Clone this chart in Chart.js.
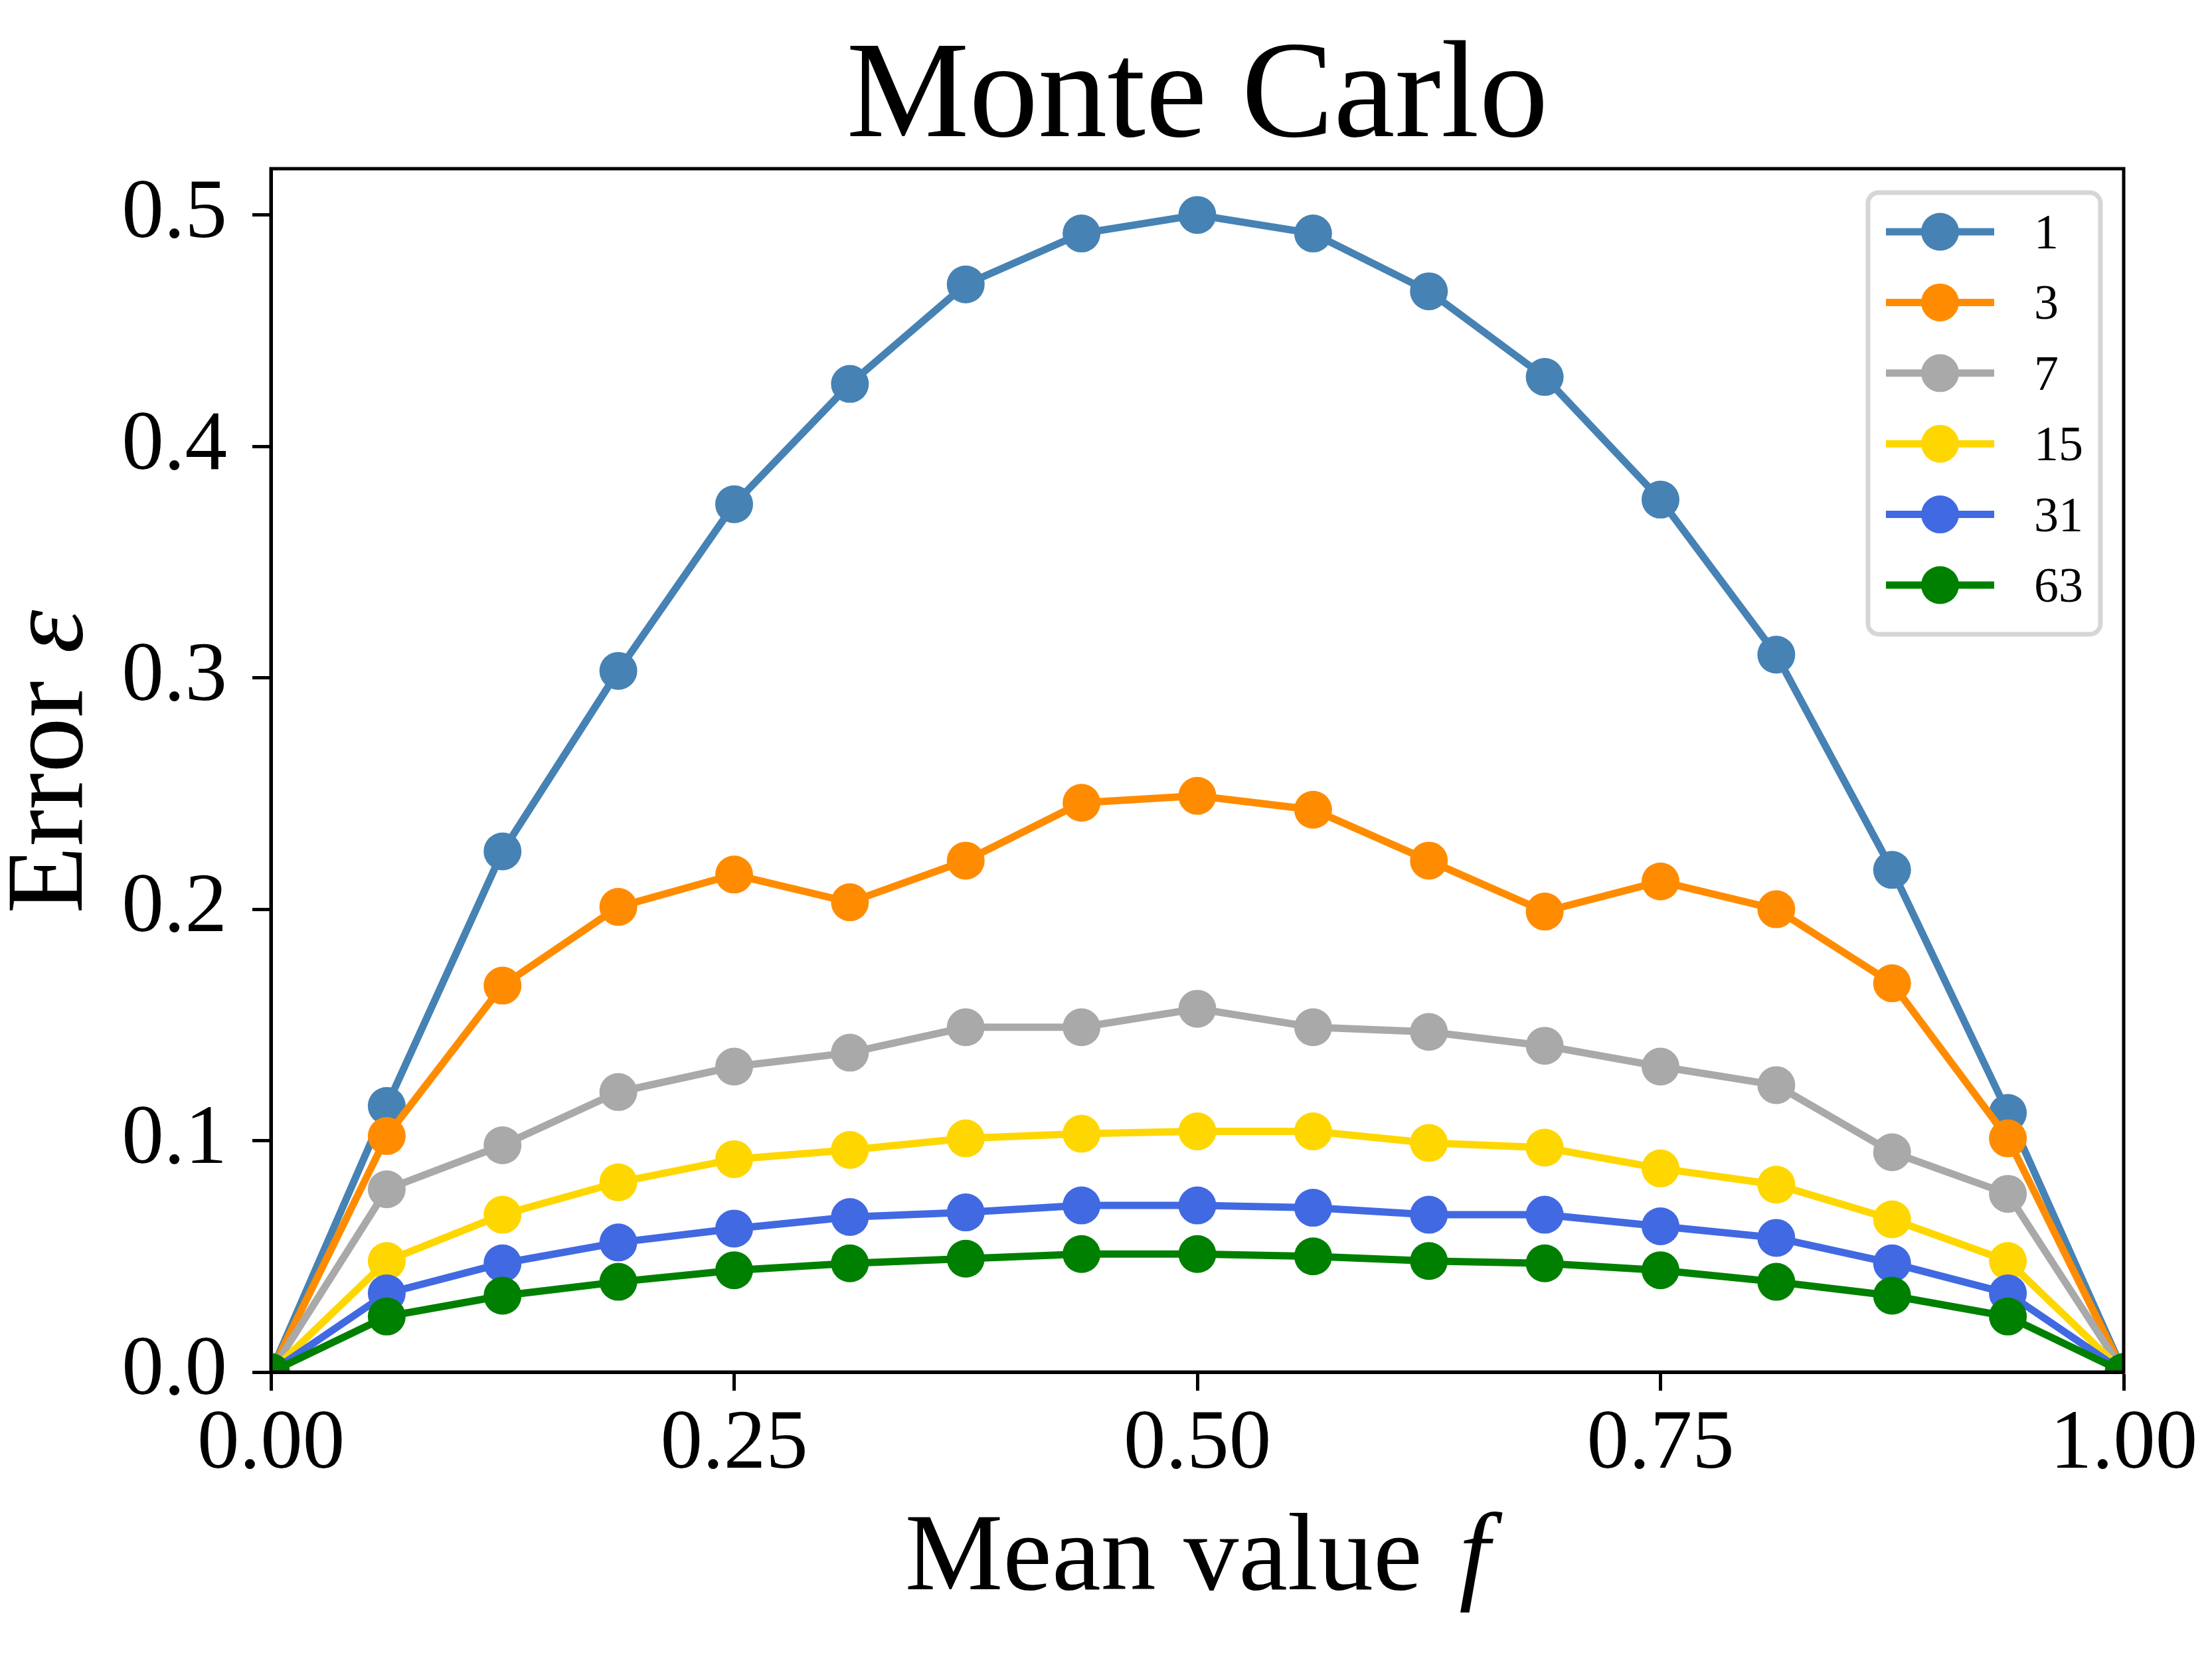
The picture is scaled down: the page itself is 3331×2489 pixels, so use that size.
<!DOCTYPE html>
<html>
<head>
<meta charset="utf-8">
<title>Monte Carlo</title>
<script src="https://cdn.jsdelivr.net/npm/chart.js@4.4.1/dist/chart.umd.min.js"></script>
<style>
  html, body { margin: 0; padding: 0; background: #fff; overflow: hidden; }
  canvas { display: block; }
</style>
</head>
<body>
<canvas id="mcChart" width="3331" height="2489" style="width:3331px;height:2489px"></canvas>
<script>
// ── Data ─────────────────────────────────────────────────────
const meanValues = [0, 0.0625, 0.125, 0.1875, 0.25, 0.3125, 0.375, 0.4375, 0.5,
                    0.5625, 0.625, 0.6875, 0.75, 0.8125, 0.875, 0.9375, 1];

const err1  = [0, 0.115, 0.225, 0.303, 0.375, 0.427, 0.470, 0.492, 0.500, 0.492, 0.467, 0.430, 0.377, 0.310, 0.217, 0.112, 0];
const err3  = [0, 0.102, 0.167, 0.201, 0.215, 0.203, 0.221, 0.246, 0.249, 0.243, 0.221, 0.199, 0.212, 0.200, 0.168, 0.101, 0];
const err7  = [0, 0.079, 0.098, 0.121, 0.132, 0.138, 0.149, 0.149, 0.157, 0.149, 0.147, 0.141, 0.132, 0.124, 0.095, 0.077, 0];
const err15 = [0, 0.048, 0.068, 0.082, 0.092, 0.096, 0.101, 0.103, 0.104, 0.104, 0.099, 0.097, 0.088, 0.081, 0.066, 0.048, 0];
const err31 = [0, 0.034, 0.047, 0.056, 0.062, 0.067, 0.069, 0.072, 0.072, 0.071, 0.068, 0.068, 0.063, 0.058, 0.047, 0.034, 0];
const err63 = [0, 0.024, 0.033, 0.039, 0.044, 0.047, 0.049, 0.051, 0.051, 0.050, 0.048, 0.047, 0.044, 0.039, 0.033, 0.024, 0];

const seriesLabels = ['1', '3', '7', '15', '31', '63'];
const seriesValues = [err1, err3, err7, err15, err31, err63];
const seriesColors = ['#4682b4', '#ff8c00', '#a9a9a9', '#ffd700', '#4169e1', '#008000'];

const xTicks = [0, 0.25, 0.5, 0.75, 1];
const yTicks = [0, 0.1, 0.2, 0.3, 0.4, 0.5];

const SERIF = '"Liberation Serif", "Times New Roman", "DejaVu Serif", serif';

// ── Title, axis labels, frame and legend ─────────────────────
function mixedText(ctx, parts, x, y, size) {
  let total = 0;
  parts.forEach(p => {
    ctx.font = (p.italic ? 'italic ' : '') + size + 'px ' + SERIF;
    p.w = ctx.measureText(p.text).width + (p.gap || 0);
    total += p.w;
  });
  let cx = x - total / 2;
  parts.forEach(p => {
    ctx.font = (p.italic ? 'italic ' : '') + size + 'px ' + SERIF;
    ctx.fillText(p.text, cx, y);
    cx += p.w;
  });
}

const decorations = {
  id: 'decorations',
  afterDatasetsDraw(chart) {
    const { ctx, chartArea: a } = chart;
    ctx.save();
    ctx.strokeStyle = '#000';
    ctx.lineWidth = 5;
    ctx.strokeRect(a.left, a.top, a.right - a.left, a.bottom - a.top);
    ctx.restore();
  },
  afterDraw(chart) {
    const { ctx, chartArea: a } = chart;
    const midX = (a.left + a.right) / 2;
    ctx.save();
    ctx.fillStyle = '#000';
    ctx.textAlign = 'left';
    ctx.textBaseline = 'alphabetic';

    // title
    mixedText(ctx, [{ text: 'Monte Carlo' }], midX, 205, 208);
    // x label
    mixedText(ctx, [{ text: 'Mean value ', gap: 14 }, { text: 'f', italic: true }], midX, 2393, 166);
    // y label
    ctx.save();
    ctx.translate(123, 1147);
    ctx.rotate(-Math.PI / 2);
    mixedText(ctx, [{ text: 'Error ' }, { text: 'ε', italic: true }], 0, 0, 166);
    ctx.restore();

    // legend
    const box = { x: 2813, y: 290, w: 350, h: 665 };
    ctx.beginPath();
    ctx.roundRect(box.x, box.y, box.w, box.h, 16);
    ctx.fillStyle = 'rgba(255,255,255,0.85)';
    ctx.fill();
    ctx.lineWidth = 7;
    ctx.strokeStyle = '#d6d6d6';
    ctx.stroke();

    chart.data.datasets.forEach((ds, i) => {
      const rowY = 349 + i * 106.4;
      ctx.strokeStyle = ds.borderColor;
      ctx.lineWidth = 11;
      ctx.beginPath();
      ctx.moveTo(2840, rowY);
      ctx.lineTo(3003, rowY);
      ctx.stroke();
      ctx.fillStyle = ds.backgroundColor;
      ctx.beginPath();
      ctx.arc(2921.5, rowY, 28.5, 0, Math.PI * 2);
      ctx.fill();
      ctx.fillStyle = '#000';
      ctx.font = '74px ' + SERIF;
      ctx.fillText(ds.label, 3063, rowY + 25);
    });
    ctx.restore();
  }
};

// ── Chart ────────────────────────────────────────────────────
const datasets = seriesValues.map((vals, i) => ({
  label: seriesLabels[i],
  data: vals.map((v, k) => ({ x: meanValues[k], y: v })),
  borderColor: seriesColors[i],
  backgroundColor: seriesColors[i],
  borderWidth: 11,
  pointRadius: 28.5,
  pointHoverRadius: 28.5,
  pointBorderWidth: 0,
  pointBackgroundColor: seriesColors[i],
  tension: 0,
  clip: 0,
  order: seriesValues.length - i
}));

const tickFont = { family: SERIF, size: 127 };

new Chart(document.getElementById('mcChart'), {
  type: 'line',
  data: { datasets: datasets },
  options: {
    responsive: false,
    devicePixelRatio: 1,
    animation: false,
    events: [],
    layout: { padding: { left: 0, top: 254, right: 133, bottom: 0 } },
    plugins: {
      legend: { display: false },
      title: { display: false },
      tooltip: { enabled: false }
    },
    scales: {
      x: {
        type: 'linear',
        min: 0,
        max: 1,
        afterBuildTicks: s => { s.ticks = xTicks.map(v => ({ value: v })); },
        afterFit: s => { s.height = 2489 - 2066; },
        grid: { drawOnChartArea: false, drawTicks: true, tickLength: 28, tickWidth: 5, tickColor: '#000' },
        border: { display: true, width: 5, color: '#000' },
        ticks: {
          font: tickFont,
          color: '#000',
          padding: 6,
          maxRotation: 0,
          callback: v => Number(v).toFixed(2)
        }
      },
      y: {
        type: 'linear',
        min: 0,
        max: 0.52,
        afterBuildTicks: s => { s.ticks = yTicks.map(v => ({ value: v })); },
        afterFit: s => { s.width = 408; },
        grid: { drawOnChartArea: false, drawTicks: true, tickLength: 28, tickWidth: 5, tickColor: '#000' },
        border: { display: true, width: 5, color: '#000' },
        ticks: {
          font: tickFont,
          color: '#000',
          padding: 38,
          callback: v => Number(v).toFixed(1)
        }
      }
    }
  },
  plugins: [decorations]
});
</script>
</body>
</html>
